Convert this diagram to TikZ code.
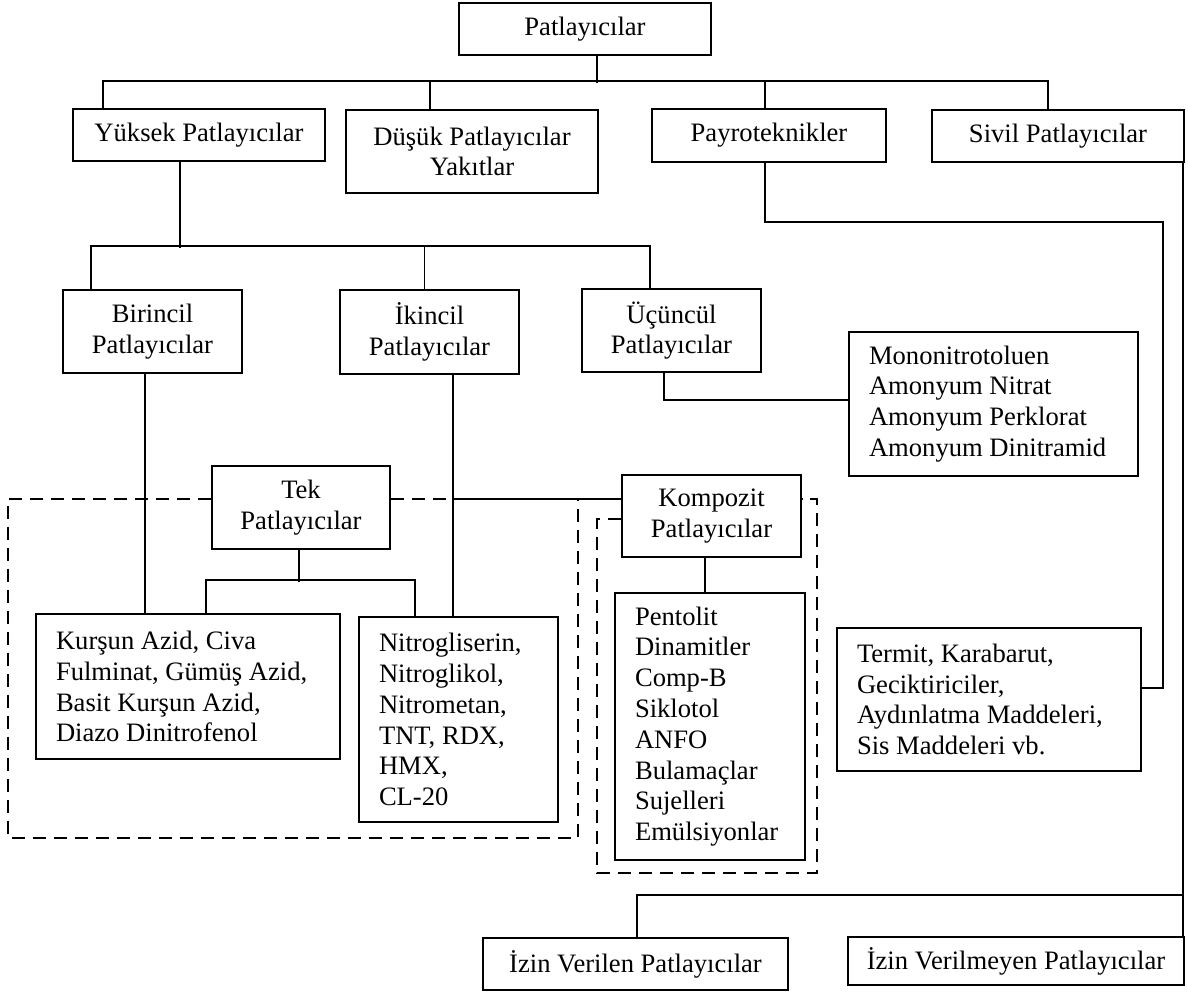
\documentclass[tikz,border=0pt]{standalone}
\usepackage{fontspec}
\setmainfont{Liberation Serif}
\usetikzlibrary{calc}

\begin{document}
\begin{tikzpicture} [x=0.5pt,y=-0.5pt,font=\fontsize{13.3}{15.4}\selectfont,
  box/.style 2 args={draw,line width=0.9pt,inner sep=0pt,minimum width=#1,minimum height=#2,align=center},
  listbox/.style 2 args={box={0pt}{#2},inner xsep=10pt,text width=#1,align=flush left},
  dashbox/.style={line width=0.8pt,dash pattern=on 6.5pt off 4pt},
  every path/.style={line width=0.8pt}]
\useasboundingbox (0,0) rectangle (1188,994);

\node[box={126pt}{26pt}] (root) at (585,29) {Patlayıcılar};
\node[box={126pt}{26pt}] (yuksek) at (199,135) {Yüksek Patlayıcılar};
\node[box={126pt}{41.5pt}] (dusuk) at (472,151.5) {Düşük Patlayıcılar\\Yakıtlar};
\node[box={117pt}{26.5pt}] (payro) at (769,135.5) {Payroteknikler};
\node[box={126pt}{26pt}] (sivil) at (1058,136) {Sivil Patlayıcılar};

\node[box={89.5pt}{41.5pt}] (birincil) at (152.5,331.5) {Birincil\\Patlayıcılar};
\node[box={89.5pt}{42pt}] (ikincil) at (429.5,332) {İkincil\\Patlayıcılar};
\node[box={89.5pt}{41.5pt}] (ucuncul) at (671.5,330.5) {Üçüncül\\Patlayıcılar};
\node[listbox={124.5pt}{72pt}] (mono) at (993.5,404) {Mononitrotoluen\\Amonyum Nitrat\\Amonyum Perklorat\\Amonyum Dinitramid};

\node[box={89pt}{41.5pt}] (tek) at (301,507.5) {Tek\\Patlayıcılar};
\node[box={89.5pt}{41pt}] (kompozit) at (711.5,516) {Kompozit\\Patlayıcılar};

\node[listbox={132pt}{72.5pt}] (kursun) at (188,686.5) {Kurşun Azid, Civa\\Fulminat, Gümüş Azid,\\Basit Kurşun Azid,\\Diazo Dinitrofenol};
\node[listbox={79.5pt}{102.5pt}] (nitro) at (458.5,719.5) {Nitrogliserin,\\Nitroglikol,\\Nitrometan,\\TNT, RDX,\\HMX,\\CL-20};
\node[listbox={75pt}{133.5pt}] (pentolit) at (710,726.5) {Pentolit\\Dinamitler\\Comp-B\\Siklotol\\ANFO\\Bulamaçlar\\Sujelleri\\Emülsiyonlar};
\node[listbox={132pt}{71.5pt}] (termit) at (989,699.5) {Termit, Karabarut,\\Geciktiriciler,\\Aydınlatma Maddeleri,\\Sis Maddeleri vb.};

\node[box={152.5pt}{26pt}] (izinV) at (635.5,964) {İzin Verilen Patlayıcılar};
\node[box={168pt}{24pt}] (izinY) at (1016,961) {İzin Verilmeyen Patlayıcılar};

\draw (root.south) ++(12,0) --++(0,27);
\draw (yuksek.north) ++(-96,0) --++(0,-27) -| ($(sivil.north)+(-10,0)$);
\draw (dusuk.north) ++(-42,0) --++(0,-28);
\draw (payro.north) ++(-4,0) --++(0,-27);

\draw (yuksek.south) ++(-19,0) --++(0,86);
\draw (birincil.north) ++(-61.5,0) --++(0,-43) -| ($(ucuncul.north)+(-21.5,0)$);
\draw (ikincil.north) ++(-5,0) --++(0,-43);
\draw (ucuncul.south) ++(-7.5,0) --++(0,27) -| ($(mono.west)+(0,-5)$);

\draw (birincil.south) ++(-7.5,0) --++(0,241);
\draw (ikincil.south) ++(23.5,0) --++(0,243);

\coordinate (lvl) at (0,499);
\draw[dashbox] (tek.west |- lvl) -| (8,838) -| (578,499);
\draw[dashbox] (tek.east |- lvl) --++(63,0);
\draw ($(tek.east |- lvl)+(63,0)$) -- (kompozit.west |- lvl);
\draw[dashbox] ($(kompozit.west)+(0,3)$) -| (597,873) -| (817,499) -- (kompozit.east |- lvl);

\draw (tek.south) ++(-2,0) --++(0,32);
\draw (kursun.north) ++(18,0) --++(0,-33) -| ($(nitro.north)+(-43.5,0)$);
\draw (kompozit.south) ++(-6.5,0) --++(0,36);

\draw (payro.south) ++(-4,0) --++(0,59) -| ++(398,466) --++(-22,0);
\draw (sivil.south east) ++(-2,0) --++(0,775);
\draw (izinV.north) ++(1.5,0) --++(0,-42) --++(545,0);
\end{tikzpicture}
\end{document}
